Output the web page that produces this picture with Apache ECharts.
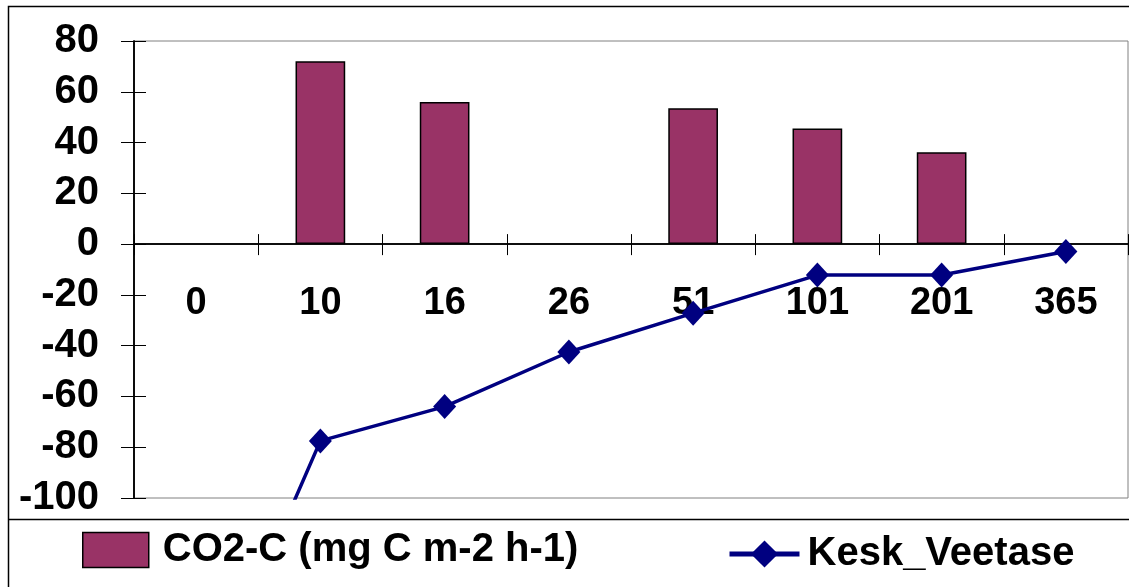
<!DOCTYPE html>
<html>
<head>
<meta charset="utf-8">
<script src="https://cdn.jsdelivr.net/npm/echarts@6/dist/echarts.min.js"></script>
<style>
html,body{margin:0;padding:0;background:#fff;}
#c{width:1129px;height:587px;}
</style>
</head>
<body>
<div id="c"></div>
<script>
const categories = ['0','10','16','26','51','101','201','365'];
const co2Values = [null, 72, 56, null, 53.5, 45.5, 36.2, null];
const veetaseValues = [-190, -77.5, -64, -42.5, -27.2, -12.2, -12.2, -2.9];
const barName = 'CO2-C (mg C m-2 h-1)';
const lineName = 'Kesk_Veetase';

const FONT = '"Liberation Sans", Arial, sans-serif';
const chart = echarts.init(document.getElementById('c'), null, {renderer:'canvas'});
chart.setOption({
  backgroundColor:'#fff',
  animation:false,
  grid:{left:134, top:41, right:1, bottom:89, show:true, borderColor:'#808080', borderWidth:1, backgroundColor:'transparent'},
  legend:[
    {data:[{name:barName, icon:'rect'}], left:77, top:525, itemWidth:66, itemHeight:35, itemGap:0,
     textStyle:{fontFamily:FONT, fontWeight:'bold', fontSize:40, color:'#000', padding:[0,0,0,9]},
     itemStyle:{borderColor:'#000', borderWidth:1.5}},
    {data:[{name:lineName, lineStyle:{width:5, color:'#000080'}}], left:722, top:529, itemWidth:70, itemHeight:34, itemGap:0,
     lineStyle:{width:5},
     textStyle:{fontFamily:FONT, fontWeight:'bold', fontSize:40, color:'#000', padding:[0,0,0,3]}}
  ],
  graphic:[
    {type:'rect', shape:{x:8.5, y:6.5, width:1200, height:700}, style:{fill:'none', stroke:'#000', lineWidth:1.5}, silent:true},
    {type:'line', shape:{x1:8, y1:519.5, x2:1200, y2:519.5}, style:{stroke:'#000', lineWidth:1.5}, silent:true}
  ],
  xAxis:[
    {type:'category', data:categories, position:'bottom',
     axisLine:{onZero:true, onZeroAxisIndex:0, lineStyle:{color:'#000', width:1.5}},
     axisTick:{show:true, inside:false, length:11, lineStyle:{color:'#000', width:1}},
     axisLabel:{show:false},
     splitLine:{show:false}},
    {type:'category', data:categories, position:'bottom',
     axisLine:{onZero:true, onZeroAxisIndex:1, lineStyle:{color:'#000', width:1.5}},
     axisTick:{show:true, inside:true, length:10, lineStyle:{color:'#000', width:1}},
     axisLabel:{show:false}, splitLine:{show:false}},
    {type:'category', data:categories, position:'bottom',
     axisLine:{show:false, onZero:false}, axisTick:{show:false},
     axisLabel:{margin:-213, fontFamily:FONT, fontWeight:'bold', fontSize:38, color:'#000'},
     splitLine:{show:false}}
  ],
  yAxis:[
    {type:'value', min:-100, max:80, interval:20, position:'left',
     axisLine:{show:true, onZero:false, lineStyle:{color:'#000', width:1.5}},
     axisTick:{show:true, inside:false, length:13, lineStyle:{color:'#000', width:1}},
     axisLabel:{margin:35, fontFamily:FONT, fontWeight:'bold', fontSize:40, color:'#000'},
     splitLine:{show:false}},
    {type:'value', min:-100, max:80, interval:20, position:'left',
     axisLine:{show:true, onZero:false, lineStyle:{color:'#000', width:1.5}},
     axisTick:{show:true, inside:true, length:12, lineStyle:{color:'#000', width:1}},
     axisLabel:{show:false}, splitLine:{show:false}}
  ],
  series:[
    {name:barName, type:'bar', data:co2Values, barWidth:'40%', xAxisIndex:0, yAxisIndex:0,
     itemStyle:{color:'#993366', borderColor:'#000', borderWidth:1.5}},
    {name:lineName, type:'line', data:veetaseValues, xAxisIndex:0, yAxisIndex:0,
     symbol:'diamond', symbolSize:[23,25], connectNulls:true,
     lineStyle:{color:'#000080', width:3.5}, itemStyle:{color:'#000080'}, z:5}
  ]
});
</script>
</body>
</html>
